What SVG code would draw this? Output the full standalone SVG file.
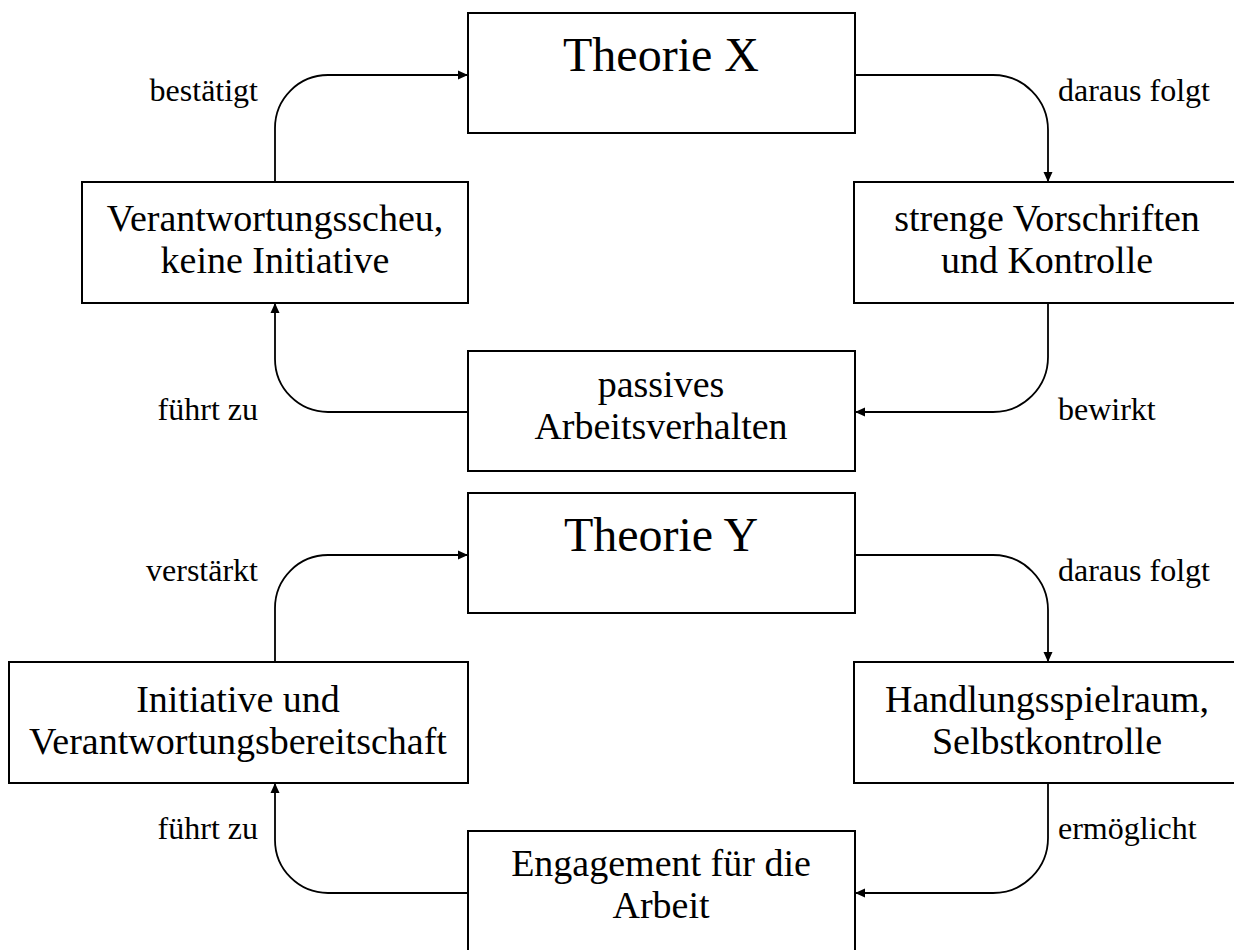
<svg xmlns="http://www.w3.org/2000/svg" width="1234" height="950" viewBox="0 0 1234 950">
<defs>
<style>
.box{fill:#fff;stroke:#000;stroke-width:2}
.t{font-family:"Liberation Serif","Times New Roman",serif;font-size:38px;fill:#000;text-anchor:middle}
.title{font-family:"Liberation Serif","Times New Roman",serif;font-size:48px;fill:#000;text-anchor:middle}
.lbl{font-family:"Liberation Serif","Times New Roman",serif;font-size:32px;fill:#000}
.c{fill:none;stroke:#000;stroke-width:1.8}
</style>
<marker id="ah" viewBox="0 0 10 10" refX="10" refY="5" markerWidth="10" markerHeight="10" markerUnits="userSpaceOnUse" orient="auto">
<path d="M0,0.5 L10,5 L0,9.5 Z" fill="#000"/>
</marker>
</defs>
<rect width="1234" height="950" fill="#fff"/>
<g id="connectors">
<path class="c" marker-end="url(#ah)" d="M275,182 V128 A53,53 0 0 1 328,75 H468"/>
<path class="c" marker-end="url(#ah)" d="M855,75 H993 A55,55 0 0 1 1048,130 V182"/>
<path class="c" marker-end="url(#ah)" d="M1048,303 V357 A55,55 0 0 1 993,412 H855"/>
<path class="c" marker-end="url(#ah)" d="M468,412 H328 A53,53 0 0 1 275,359 V303"/>
<path class="c" marker-end="url(#ah)" d="M275,662 V608 A53,53 0 0 1 328,555 H468"/>
<path class="c" marker-end="url(#ah)" d="M855,555 H993 A55,55 0 0 1 1048,610 V662"/>
<path class="c" marker-end="url(#ah)" d="M1048,783 V838 A55,55 0 0 1 993,893 H855"/>
<path class="c" marker-end="url(#ah)" d="M468,893 H328 A53,53 0 0 1 275,840 V783"/>
</g>
<g id="labels">
<text class="lbl" x="258" y="101" text-anchor="end">bestätigt</text>
<text class="lbl" x="1058" y="101">daraus folgt</text>
<text class="lbl" x="258" y="420" text-anchor="end">führt zu</text>
<text class="lbl" x="1058" y="420">bewirkt</text>
<text class="lbl" x="258" y="581" text-anchor="end">verstärkt</text>
<text class="lbl" x="1058" y="581">daraus folgt</text>
<text class="lbl" x="258" y="839" text-anchor="end">führt zu</text>
<text class="lbl" x="1058" y="839">ermöglicht</text>
</g>
<g id="theorieX">
<rect class="box" x="468" y="13" width="387" height="120"/>
<text class="title" x="661" y="71">Theorie X</text>
</g>
<g id="verantwortungsscheu">
<rect class="box" x="82" y="182" width="386" height="121"/>
<text class="t" x="275" y="231">Verantwortungsscheu,</text>
<text class="t" x="275" y="273">keine Initiative</text>
</g>
<g id="strengeVorschriften">
<rect class="box" x="854" y="182" width="390" height="121"/>
<text class="t" x="1047" y="231">strenge Vorschriften</text>
<text class="t" x="1047" y="273">und Kontrolle</text>
</g>
<g id="passives">
<rect class="box" x="468" y="351" width="387" height="120"/>
<text class="t" x="661" y="397">passives</text>
<text class="t" x="661" y="439">Arbeitsverhalten</text>
</g>
<g id="theorieY">
<rect class="box" x="468" y="493" width="387" height="120"/>
<text class="title" x="661" y="551">Theorie Y</text>
</g>
<g id="initiative">
<rect class="box" x="9" y="662" width="459" height="121"/>
<text class="t" x="238" y="712">Initiative und</text>
<text class="t" x="238" y="754">Verantwortungsbereitschaft</text>
</g>
<g id="handlungsspielraum">
<rect class="box" x="854" y="662" width="390" height="121"/>
<text class="t" x="1047" y="712">Handlungsspielraum,</text>
<text class="t" x="1047" y="754">Selbstkontrolle</text>
</g>
<g id="engagement">
<rect class="box" x="468" y="831" width="387" height="130"/>
<text class="t" x="661" y="876">Engagement für die</text>
<text class="t" x="661" y="918">Arbeit</text>
</g>
</svg>
